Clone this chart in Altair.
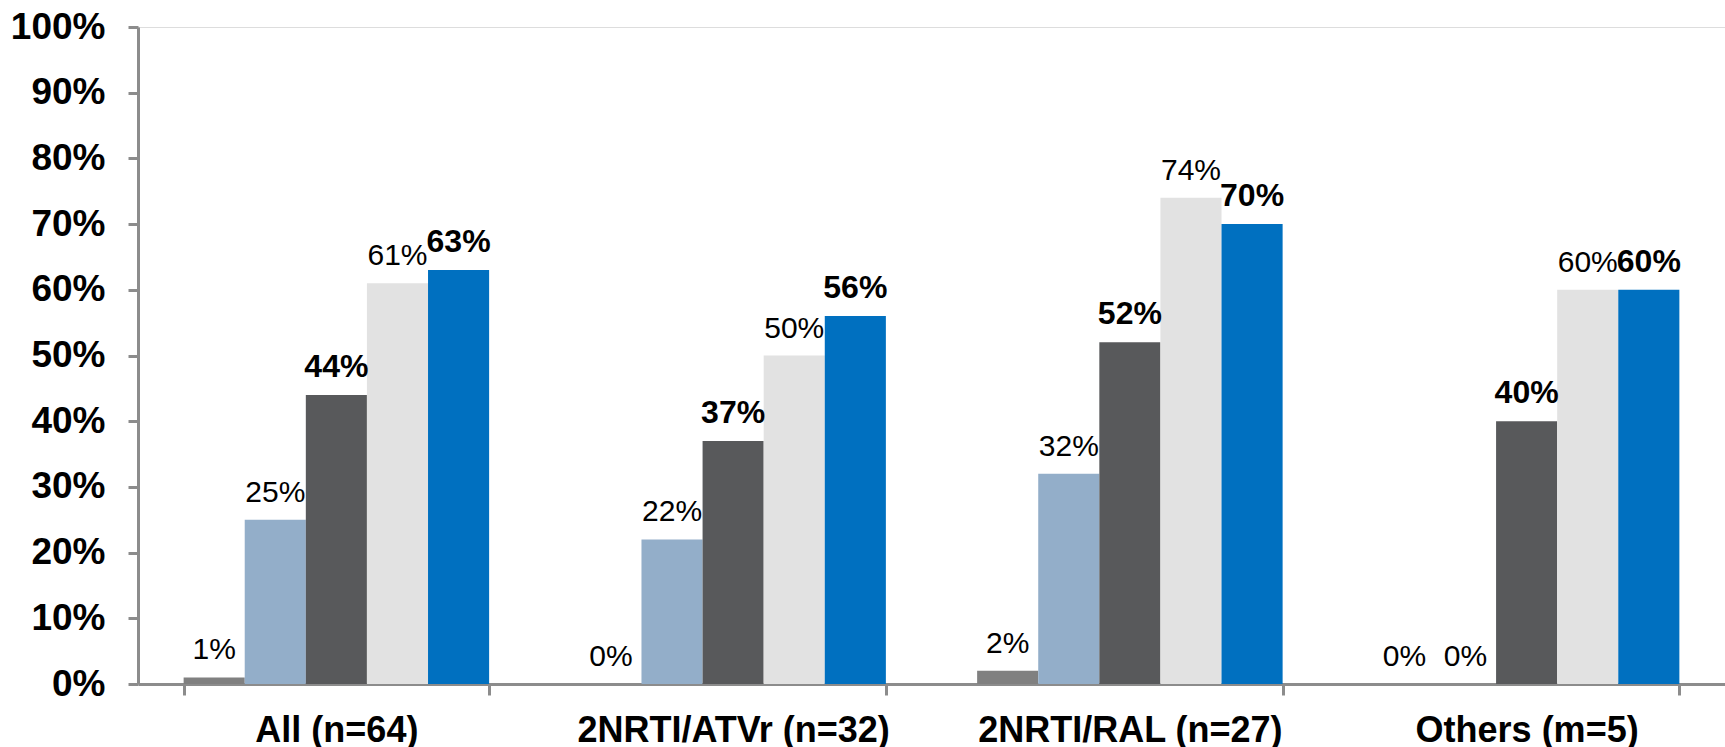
import altair as alt
import pandas as pd

# Regimen groups along the x axis
groups = ["All (n=64)", "2NRTI/ATVr (n=32)", "2NRTI/RAL (n=27)", "Others (m=5)"]

# Five series per group (percent values)
series = ["s1", "s2", "s3", "s4", "s5"]
s1 = [1, 0, 2, 0]
s2 = [25, 22, 32, 0]
s3 = [44, 37, 52, 40]
s4 = [61, 50, 74, 60]
s5 = [63, 56, 70, 60]

# Series whose labels are shown in bold
bold_series = ["s3", "s5"]
series_colors = ["#808080", "#93AEC9", "#58595B", "#E2E2E2", "#0070C0"]

rows = []
for si, vals in zip(series, [s1, s2, s3, s4, s5]):
    for g, v in zip(groups, vals):
        rows.append({"group": g, "series": si, "value": v / 100.0,
                     "label": f"{v}%", "bold": si in bold_series})
df = pd.DataFrame(rows)

FONT = "Liberation Sans"

x_enc = alt.X(
    "group:N",
    sort=groups,
    title=None,
    scale=alt.Scale(paddingInner=0.23, paddingOuter=0.115),
    axis=alt.Axis(
        labelAngle=0,
        labelFont=FONT,
        labelFontSize=36,
        labelFontWeight="bold",
        labelColor="#000000",
        labelPadding=18,
        labelLimit=0,
        tickBand="extent",
        tickSize=11,
        tickWidth=3,
        tickColor="#8C8C8C",
        domainColor="#8C8C8C",
        domainWidth=3,
    ),
)
xoff = alt.XOffset("series:N", sort=series, scale=alt.Scale(paddingInner=0, paddingOuter=0))
y_enc = alt.Y(
    "value:Q",
    title=None,
    scale=alt.Scale(domain=[0, 1], nice=False),
    axis=alt.Axis(
        values=[i / 10 for i in range(11)],
        format=".0%",
        labelFont=FONT,
        labelFontSize=37,
        labelFontWeight="bold",
        labelColor="#000000",
        labelPadding=23,
        labelLimit=0,
        tickSize=10,
        tickWidth=3,
        tickColor="#8C8C8C",
        domainColor="#8C8C8C",
        domainWidth=3,
        grid=False,
    ),
)

bars = alt.Chart(df).mark_bar(strokeWidth=0).encode(
    x=x_enc,
    xOffset=xoff,
    y=y_enc,
    color=alt.Color("series:N", sort=series,
                    scale=alt.Scale(domain=series, range=series_colors),
                    legend=None),
)

labels_normal = alt.Chart(df).transform_filter("!datum.bold").mark_text(
    font=FONT, fontSize=30, fontWeight="normal", color="#000000",
    baseline="alphabetic", dy=-18,
).encode(x=x_enc, xOffset=xoff, y=y_enc, text="label:N")

labels_bold = alt.Chart(df).transform_filter("datum.bold").mark_text(
    font=FONT, fontSize=32, fontWeight="bold", color="#000000",
    baseline="alphabetic", dy=-18,
).encode(x=x_enc, xOffset=xoff, y=y_enc, text="label:N")

chart = alt.layer(bars, labels_normal, labels_bold).properties(
    width=1587,
    height=657,
    autosize=alt.AutoSizeParams(type="none"),
    padding={"left": 138, "top": 27, "right": 0, "bottom": 63},
).configure_view(stroke=None).configure(background="#FFFFFF")

chart.save("out.html", embed_options={"renderer": "svg", "actions": False})
